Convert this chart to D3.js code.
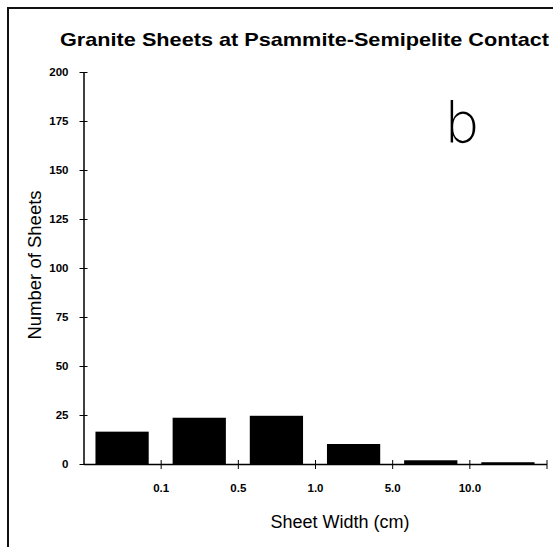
<!DOCTYPE html>
<html>
<head>
<meta charset="utf-8">
<script src="https://cdn.jsdelivr.net/npm/d3@7"></script>
<style>
	body { margin: 0; background: #fff; }
	svg { display: block; font-family: "Liberation Sans", Arial, sans-serif; }
</style>
</head>
<body>
<div id="graph"></div>
<script>
/*
 * sheet width classes; the tick labels sit on the
 * boundaries between classes
 */
var bins = [ "<0.1", "0.1-0.5", "0.5-1.0", "1.0-5.0", "5.0-10.0", ">10.0" ];
var counts = [ 16.5, 23.6, 24.6, 10.2, 1.9, 0.9 ];
var boundaryLabels = [ "0.1", "0.5", "1.0", "5.0", "10.0", "" ];
var yTicks = [ 0, 25, 50, 75, 100, 125, 150, 175, 200 ];

var width = 553, height = 547;
var plotLeft = 83.5, plotRight = 546.5, plotTop = 72, plotBottom = 464;

var svg = d3.select("#graph").append("svg")
	.attr("width", width)
	.attr("height", height);

// frame round the figure, only top and left survive in the scan
svg.append("path")
	.attr("d", "M8,547V8H553")
	.attr("fill", "none")
	.attr("stroke", "#111")
	.attr("stroke-width", 2);

var xBand = d3.scaleBand()
	.domain(bins)
	.range([plotLeft, plotRight])
	.paddingInner(0.31)
	.paddingOuter(0.155);

var xEdge = d3.scaleLinear()
	.domain([0, bins.length])
	.range([plotLeft, plotRight]);

var yScale = d3.scaleLinear()
	.domain([0, 200])
	.range([plotBottom, plotTop]);

svg.append("g")
	.selectAll("rect")
	.data(counts)
	.enter().append("rect")
	.attr("x", function (d, i) { return xBand(bins[i]); })
	.attr("width", xBand.bandwidth())
	.attr("y", function (d) { return yScale(d); })
	.attr("height", function (d) { return plotBottom - yScale(d); })
	.attr("fill", "#000");

var xAxis = d3.axisBottom(xEdge)
	.tickValues(d3.range(1, bins.length + 1))
	.tickSizeOuter(0)
	.tickPadding(14)
	.tickFormat(function (d) { return boundaryLabels[d - 1]; });

var yAxis = d3.axisLeft(yScale)
	.tickValues(yTicks)
	.tickSizeOuter(0)
	.tickPadding(9);

var gx = svg.append("g")
	.attr("transform", "translate(0," + plotBottom + ")")
	.call(xAxis);

var gy = svg.append("g")
	.attr("transform", "translate(" + plotLeft + ",0)")
	.call(yAxis);

[gx, gy].forEach(function (g) {
	g.select(".domain").attr("stroke", "#000").attr("stroke-width", 1.5);
	g.selectAll(".tick text")
		.attr("font-family", "'Liberation Sans', Arial, sans-serif")
		.attr("font-size", 11.5)
		.attr("font-weight", "bold")
		.attr("fill", "#000");
});

// ticks cross the axis lines
gx.selectAll(".tick line").attr("y1", -4).attr("y2", 5).attr("stroke", "#000");
gy.selectAll(".tick line").attr("x1", -4).attr("x2", 4).attr("stroke", "#000");

svg.append("text")
	.attr("x", 304.5)
	.attr("y", 46)
	.attr("text-anchor", "middle")
	.attr("font-size", 19)
	.attr("font-weight", "bold")
	.attr("textLength", 489)
	.attr("lengthAdjust", "spacingAndGlyphs")
	.text("Granite Sheets at Psammite-Semipelite Contact");

svg.append("text")
	.attr("transform", "translate(41,265) rotate(-90)")
	.attr("text-anchor", "middle")
	.attr("font-size", 18.5)
	.text("Number of Sheets");

svg.append("text")
	.attr("x", 340)
	.attr("y", 528)
	.attr("text-anchor", "middle")
	.attr("font-size", 18)
	.text("Sheet Width (cm)");

svg.append("text")
	.attr("x", 462)
	.attr("y", 142)
	.attr("text-anchor", "middle")
	.attr("font-family", "'DejaVu Sans', sans-serif")
	.attr("font-size", 56)
	.attr("font-weight", 300)
	.text("b");
</script>
</body>
</html>
